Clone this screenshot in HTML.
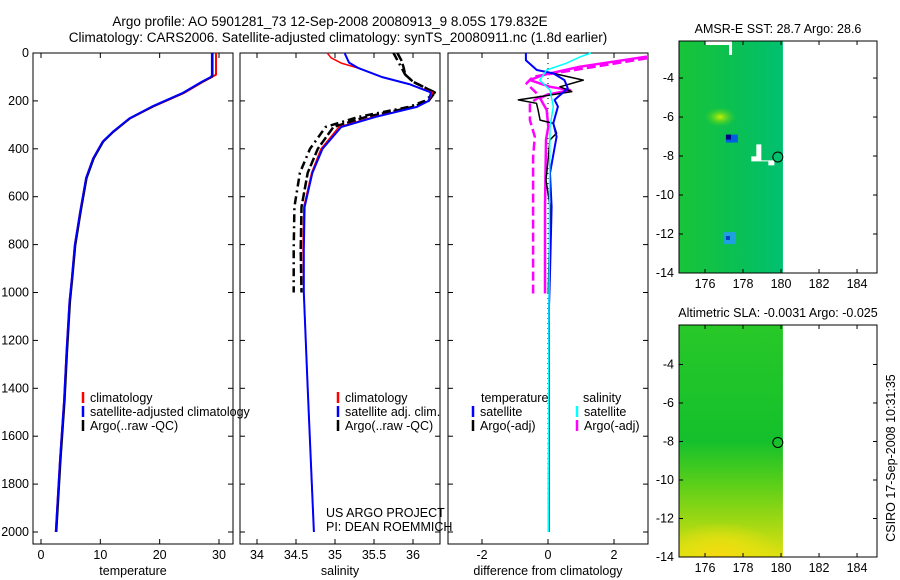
<!DOCTYPE html>
<html><head><meta charset="utf-8"><style>
body{margin:0;background:#fff}
svg{display:block;font-family:"Liberation Sans",sans-serif}
text{font-size:12.5px;fill:#000}
</style></head><body>
<svg id="fig" width="900" height="580" viewBox="0 0 900 580">
<defs>
<linearGradient id="sstg" x1="0" y1="0" x2="1" y2="0"><stop offset="0" stop-color="#18c438"/><stop offset="0.5" stop-color="#0cc050"/><stop offset="1" stop-color="#00c070"/></linearGradient>
<linearGradient id="slag" x1="0" y1="0" x2="0" y2="1"><stop offset="0" stop-color="#28c828"/><stop offset="0.5" stop-color="#14c02c"/><stop offset="0.7" stop-color="#60d018"/><stop offset="1" stop-color="#e0e010"/></linearGradient>
<radialGradient id="slao" cx="0.4" cy="1" r="0.6"><stop offset="0" stop-color="#f8d810"/><stop offset="0.5" stop-color="#e8e010" stop-opacity="0.8"/><stop offset="1" stop-color="#e8e010" stop-opacity="0"/></radialGradient>
<radialGradient id="sstl" cx="0.5" cy="0.5" r="0.5"><stop offset="0" stop-color="#c8f000"/><stop offset="1" stop-color="#40d020" stop-opacity="0"/></radialGradient>
</defs>
<text x="330" y="26" text-anchor="middle" style="font-size:13.5px">Argo profile: AO 5901281_73 12-Sep-2008 20080913_9 8.05S 179.832E</text>
<text x="338" y="42" text-anchor="middle" style="font-size:13.5px">Climatology: CARS2006. Satellite-adjusted climatology: synTS_20080911.nc (1.8d earlier)</text>
<g id="g1"></g>
<g id="g2"></g>
<g id="g3"></g>
<g id="m1"></g>
<g id="m2"></g>
<text transform="translate(895,458) rotate(-90)" text-anchor="middle">CSIRO 17-Sep-2008 10:31:35</text>
</svg>
<script>
// ---- data ----
const depthTicks=[0,200,400,600,800,1000,1200,1400,1600,1800,2000];
const tempTicks=[0,10,20,30];
const salTicks=[34,34.5,35,35.5,36];
const salTickLabels=["34","34.5","35","35.5","36"];
const diffTicks=[-2,0,2];
const tempDepth=[0,90,99,120,168,224,273,329,370,440,522,662,802,940,1038,1250,1450,1700,2000];
const tempClim=[29.5,29.5,28.9,27.3,24,18.9,15,12.2,10.4,8.8,7.6,6.6,5.7,5.2,4.8,4.3,3.9,3.2,2.5];
const tempSat=[28.8,28.8,28.7,27.1,23.8,18.7,14.9,12.1,10.4,8.8,7.6,6.6,5.7,5.2,4.8,4.3,3.9,3.2,2.5];
const salDepth=[0,20,42,63,100,130,165,200,225,267,309,400,500,643,822,1000,1400,2000];
const salClim=[34.9,34.95,35.08,35.3,35.6,35.95,36.25,36.2,36.05,35.5,35.05,34.82,34.7,34.6,34.59,34.6,34.65,34.73];
const salSatDepth=[0,5,40,63,100,130,165,200,225,267,309,400,500,643,822,1000,1400,2000];
const salSat=[35.13,35.13,35.18,35.3,35.6,35.95,36.23,36.2,36.05,35.52,35.08,34.84,34.71,34.61,34.6,34.6,34.65,34.73];
const salArgoDepth=[0,30,60,90,120,165,200,225,267,309,400,500,643,822,1000];
const salArgo=[35.8,35.85,35.88,35.9,36.0,36.28,36.2,36.0,35.4,34.98,34.78,34.65,34.57,34.56,34.57];
const salArgoRaw=[35.75,35.8,35.85,35.9,36.0,36.28,36.15,35.95,35.3,34.88,34.68,34.55,34.48,34.47,34.47];
const dBlueD=[0,30,71,85,113,148,196,224,293,349,502,642,920,1060,1500,2000];
const dBlue=[-0.67,-0.67,-0.34,0.16,0.5,0.6,0.2,0.3,0.16,0.26,0.06,0.11,0.06,0.03,0.03,0.02];
const dCyanD=[0,15,43,71,113,155,224,308,500,1000,2000];
const dCyan=[1.3,1.0,0.55,-0.04,-0.25,0.06,0.16,0.06,0.05,0.03,0.01];
const dMagD=[15,57,92,113,141,155,175,189,238,308,363,642,1004];
const dMag=[3.0,0.97,-0.15,-0.55,0.06,0.67,-0.04,-0.24,-0.04,0.01,-0.06,-0.09,-0.09];
const dMagRawD=[22,99,127,182,210,280,349,433,1004];
const dMagRaw=[3.0,-0.45,-0.65,-0.24,-0.55,-0.55,-0.4,-0.45,-0.45];
const dBlackD=[85,113,141,161,182,196,210,238,280,294,335,363,502,530,642,1004];
const dBlack=[0.16,1.07,0.36,0.72,-0.24,-0.9,-0.35,-0.3,-0.24,0.16,0.26,0.06,-0.04,-0.06,0.06,0.01];
const lonTicks=[176,178,180,182,184];
const latTicks=[-4,-6,-8,-10,-12,-14];
const argoLon=179.832, argoLat=-8.05;

const NS="http://www.w3.org/2000/svg";
function mk(p,t,a){const e=document.createElementNS(NS,t);for(const k in a)e.setAttribute(k,a[k]);p.appendChild(e);return e;}
const yD=d=>53+d*0.2395;
function panel(g,x0,x1,xs,ticks,labels,xlabel,showDepth){
  const fr=mk(g,'rect',{x:x0,y:53,width:x1-x0,height:491,fill:'none',stroke:'#000'});
  
  ticks.forEach((t,i)=>{const x=xs(t);
    mk(g,'line',{x1:x,x2:x,y1:53,y2:58,stroke:'#000'});mk(g,'line',{x1:x,x2:x,y1:544,y2:539,stroke:'#000'});
    const tx=mk(g,'text',{x:x,y:559,'text-anchor':'middle'});tx.textContent=labels[i];
    });
  depthTicks.forEach(d=>{const y=yD(d);
    mk(g,'line',{x1:x0,x2:x0+5,y1:y,y2:y,stroke:'#000'});mk(g,'line',{x1:x1,x2:x1-5,y1:y,y2:y,stroke:'#000'});
    if(showDepth){const tx=mk(g,'text',{x:x0-4,y:y+4,'text-anchor':'end'});tx.textContent=d;
      }});
  const xl=mk(g,'text',{x:(x0+x1)/2,y:575,'text-anchor':'middle'});xl.textContent=xlabel;
  
}
function line(g,xs,vals,deps,col,w,dash,name){
  const d=vals.map((v,i)=>(i?'L':'M')+xs(v).toFixed(1)+','+yD(deps[i]).toFixed(1)).join('');
  const p=mk(g,'path',{d:d,fill:'none',stroke:col,'stroke-width':w,'stroke-linejoin':'round'});
  if(dash)p.setAttribute('stroke-dasharray',dash);
  
}
function legend(g,x,y,col,txt){
  mk(g,'line',{x1:x,x2:x,y1:y-10,y2:y+1,stroke:col,'stroke-width':2.5});
  const t=mk(g,'text',{x:x+7,y:y});t.textContent=txt;
  
}
// panel 1
const g1=document.getElementById('g1');
const xT=v=>41+v*5.933;
panel(g1,33,233,xT,tempTicks,tempTicks.map(String),'temperature',true);
line(g1,xT,tempClim,tempDepth,'#f00',2,null,'temp-climatology-line');
line(g1,xT,tempSat.map(v=>v+0.1),tempDepth,'#000',2,null,'temp-argo-line');
line(g1,xT,tempSat,tempDepth,'#00f',2,null,'temp-satellite-line');
legend(g1,83,402,'#f00','climatology');legend(g1,83,416,'#00f','satellite-adjusted climatology');legend(g1,83,430,'#000','Argo(..raw -QC)');
// panel 2
const g2=document.getElementById('g2');
const xS=v=>257+(v-34)*78;
panel(g2,240,440,xS,salTicks,salTickLabels,'salinity',false);
line(g2,xS,salArgoRaw,salArgoDepth,'#000',2.5,'8,4,2,4','sal-argo-raw-line');
line(g2,xS,salArgo,salArgoDepth,'#000',2.5,'9,3','sal-argo-line');
line(g2,xS,salClim,salDepth,'#f00',1.5,null,'sal-climatology-line');
line(g2,xS,salSat,salSatDepth,'#00f',2,null,'sal-satellite-line');
legend(g2,338,402,'#f00','climatology');legend(g2,338,416,'#00f','satellite adj. clim.');legend(g2,338,430,'#000','Argo(..raw -QC)');
[['US ARGO PROJECT',517],['PI: DEAN ROEMMICH',531]].forEach(a=>{const t=mk(g2,'text',{x:326,y:a[1]});t.textContent=a[0];});
// panel 3
const g3=document.getElementById('g3');
const xDf=v=>548+v*33;
panel(g3,448,648,xDf,diffTicks,diffTicks.map(String),'difference from climatology',false);
line(g3,xDf,depthTicks.map(()=>0),depthTicks,'#000',1,'1,4','zero-line');
line(g3,xDf,dMagRaw,dMagRawD,'#f0f',2.5,'9,4','sal-argo-raw-diff');
line(g3,xDf,dMag,dMagD,'#f0f',2.5,null,'sal-argo-diff');
line(g3,xDf,dBlack,dBlackD,'#000',1.5,null,'temp-argo-diff');
line(g3,xDf,dBlue,dBlueD,'#00f',2,null,'temp-satellite-diff');
line(g3,xDf,dCyan,dCyanD,'#0ff',1.5,null,'sal-satellite-diff');
[['temperature',481],['salinity',583]].forEach(a=>{const t=mk(g3,'text',{x:a[1],y:402});t.textContent=a[0];});
legend(g3,473,416,'#00f','satellite');legend(g3,473,430,'#000','Argo(-adj)');
legend(g3,577,416,'#0ff','satellite');legend(g3,577,430,'#f0f','Argo(-adj)');
// maps
function map(g,top,bot,latTop,title,fill,extra){
  const lx=lon=>679+(lon-174.63)*19;const ly=lat=>top+(latTop-lat)*(bot-top)/(latTop+14);
  const r=mk(g,'rect',{x:679,y:top,width:lx(180.1)-679,height:bot-top,fill:fill});
  
  extra(g,lx,ly);
  mk(g,'rect',{x:679,y:top,width:198,height:bot-top,fill:'none',stroke:'#000'});
  lonTicks.forEach(l=>{const x=lx(l);mk(g,'line',{x1:x,x2:x,y1:top,y2:top+4,stroke:'#000'});mk(g,'line',{x1:x,x2:x,y1:bot,y2:bot-4,stroke:'#000'});
    const t=mk(g,'text',{x:x,y:bot+15,'text-anchor':'middle'});t.textContent=l;});
  latTicks.forEach(l=>{const y=ly(l);mk(g,'line',{x1:679,x2:683,y1:y,y2:y,stroke:'#000'});mk(g,'line',{x1:877,x2:873,y1:y,y2:y,stroke:'#000'});
    const t=mk(g,'text',{x:674,y:y+4,'text-anchor':'end'});t.textContent=l;});
  const c=mk(g,'circle',{cx:lx(argoLon),cy:ly(argoLat),r:5,fill:'none',stroke:'#000'});
  
  const t=mk(g,'text',{x:778,y:top-8,'text-anchor':'middle'});t.textContent=title;
}
map(document.getElementById('m1'),41,273,-2.1,'AMSR-E SST: 28.7 Argo: 28.6','url(#sstg)',(g,lx,ly)=>{
  mk(g,'ellipse',{cx:lx(176.8),cy:ly(-6),rx:16,ry:10,fill:'url(#sstl)'});
  mk(g,'rect',{x:lx(177.1),y:ly(-6.9),width:12,height:8,fill:'#0060e0'});mk(g,'rect',{x:lx(177.1),y:ly(-6.9),width:5,height:5,fill:'#000080'});
  mk(g,'rect',{x:lx(177),y:ly(-11.9),width:12,height:12,fill:'#20a0e0'});mk(g,'rect',{x:lx(177.1),y:ly(-12.1),width:4,height:4,fill:'#0040c0'});
  mk(g,'path',{d:`M${lx(176)},41h27v14h-3v-10h-24z`,fill:'#fff'});
  mk(g,'path',{d:`M${lx(178.7)},${ly(-7.4)}h5v16h13v5h-6v-4h-17v-5h5z`,fill:'#fff'});
});
map(document.getElementById('m2'),325,557,-1.95,'Altimetric SLA: -0.0031  Argo: -0.025','url(#slag)',(g,lx,ly)=>{
  mk(g,'rect',{x:679,y:ly(-11),width:lx(180.1)-679,height:557-ly(-11),fill:'url(#slao)'});
});
</script>
</body></html>
